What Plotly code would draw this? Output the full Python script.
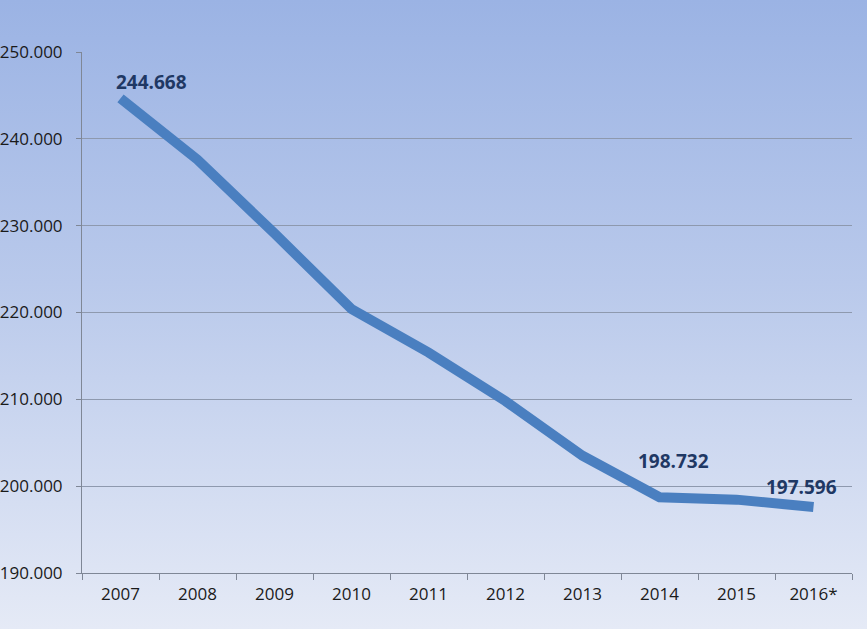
import base64
import plotly.graph_objects as go

years = ["2007", "2008", "2009", "2010", "2011", "2012", "2013", "2014", "2015", "2016*"]
values = [244668, 237600, 229100, 220400, 215400, 209800, 203500, 198732, 198450, 197596]
labeled = {"2007": (31, 16), "2014": (14, 36), "2016*": (-12, 20)}

W, H = 867, 629
ml, mr, mt, mb = 82, 15, 52, 56
pw, ph = W - ml - mr, H - mt - mb

svg = (
    '<svg xmlns="http://www.w3.org/2000/svg" width="100" height="100" preserveAspectRatio="none">'
    '<defs><linearGradient id="g" x1="0" y1="0" x2="0" y2="1">'
    '<stop offset="0" stop-color="#9bb3e4"/>'
    '<stop offset="0.45" stop-color="#b9c9eb"/>'
    '<stop offset="1" stop-color="#e5eaf6"/>'
    '</linearGradient></defs>'
    '<rect width="100" height="100" fill="url(#g)"/></svg>'
)
src = "data:image/svg+xml;base64," + base64.b64encode(svg.encode()).decode()

fig = go.Figure()
fig.add_trace(go.Scatter(
    x=years, y=values, mode="lines",
    line=dict(color="#4a7fc0", width=10),
    hoverinfo="skip",
))

fmt = lambda v: f"{v:,}".replace(",", ".")
for i, (yr, v) in enumerate(zip(years, values)):
    if yr in labeled:
        xs, ys = labeled[yr]
        fig.add_annotation(
            x=i, y=v, text=fmt(v), showarrow=False,
            xshift=xs, yshift=ys,
            font=dict(family="Open Sans", size=19, color="#1f3864", weight="bold"),
        )

fig.add_layout_image(dict(
    source=src, xref="paper", yref="paper",
    x=-ml / pw, y=1 + mt / ph, sizex=W / pw, sizey=H / ph,
    xanchor="left", yanchor="top", sizing="stretch", layer="below",
))

fig.update_layout(
    width=W, height=H,
    margin=dict(l=ml, r=mr, t=mt, b=mb),
    paper_bgcolor="#e5eaf6",
    plot_bgcolor="rgba(0,0,0,0)",
    separators=",.",
    showlegend=False,
    font=dict(family="Open Sans", size=17, color="#1a1a1a"),
    xaxis=dict(
        type="category", categoryorder="array", categoryarray=years,
        range=[-0.5, len(years) - 0.5], tickangle=0, automargin=False,
        tickson="boundaries", ticks="outside", ticklen=6,
        ticklabelstandoff=6,
        tickcolor="#7f8796", showline=True, linecolor="#7f8796", linewidth=1,
        showgrid=False, fixedrange=True,
    ),
    yaxis=dict(
        range=[190000, 250000], dtick=10000, tickformat=",.0f", automargin=False,
        ticks="outside", ticklen=5, tickcolor="#7f8796",
        ticklabelstandoff=10,
        showline=True, linecolor="#7f8796", linewidth=1,
        showgrid=True, gridcolor="#8e99ae", gridwidth=1,
        zeroline=False, fixedrange=True,
    ),
)

fig.write_html("out.html")
